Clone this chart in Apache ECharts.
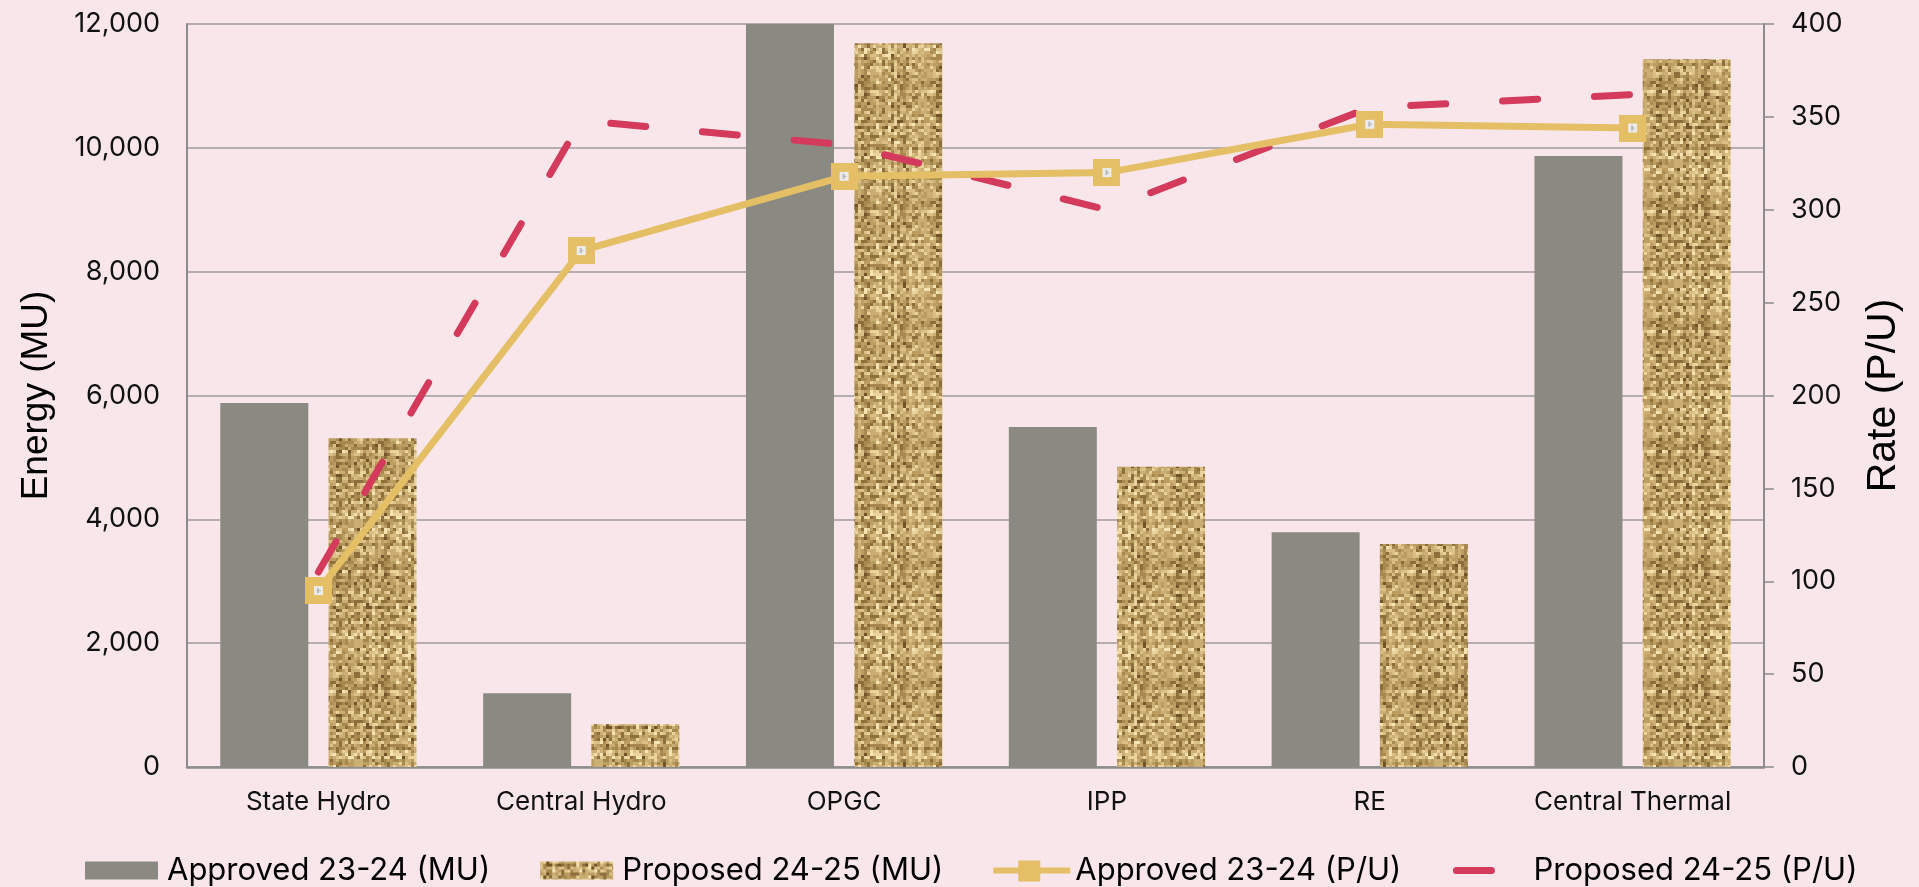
<!DOCTYPE html>
<html>
<head>
<meta charset="utf-8">
<script src="https://cdn.jsdelivr.net/npm/echarts@6/dist/echarts.min.js"></script>
<style>
html, body { margin: 0; padding: 0; background: #f9e6ea; }
#chart { width: 1919px; height: 887px; }
</style>
</head>
<body>
<div id="chart"></div>
<script>
const categories = ['State Hydro', 'Central Hydro', 'OPGC', 'IPP', 'RE', 'Central Thermal'];
const approvedEnergy = [5880, 1190, 12000, 5490, 3790, 9870];
const proposedEnergy = [5310, 690, 11690, 4850, 3600, 11430];
const approvedRate = [95, 278, 318, 320, 346, 344];
const proposedRate = [105, 348, 335, 300, 355, 362];

const GOLD = '#e4bf66';
const RED = '#d43a5b';
const GREY = '#8a8a83';

// burlap-like woven tile for the proposed bars
const makeWeave = () => {
    const cell = 3;
    const n = 40;
    const c = document.createElement('canvas');
    c.width = c.height = cell * n;
    const ctx = c.getContext('2d');
    const shades = ['#553c16', '#715428', '#8d6f3c', '#a7884f', '#bb9d62', '#cbae73', '#dbc086', '#e9d29b', '#f6e3b2'];
    let seed = 12345;
    const next = () => {
        seed = (seed * 16807) % 2147483647;
        return seed / 2147483647;
    };
    const rowOff = [];
    const colOff = [];
    for (let i = 0; i < n; i++) {
        rowOff.push(next() * 2.6 - 1.3);
        colOff.push(next() * 2.6 - 1.3);
    }
    for (let y = 0; y < n; y++) {
        for (let x = 0; x < n; x++) {
            const horiz = ((x >> 1) + (y >> 1)) % 2 === 0;
            let v = 4.5 + (horiz ? rowOff[y] : colOff[x]) * 1.6 + (next() * 3.6 - 1.8);
            v = Math.max(0, Math.min(shades.length - 1, Math.round(v)));
            ctx.fillStyle = shades[v];
            ctx.fillRect(x * cell, y * cell, cell, cell);
        }
    }
    return c;
};

const makeMarker = () => {
    const c = document.createElement('canvas');
    c.width = c.height = 27;
    const ctx = c.getContext('2d');
    ctx.fillStyle = GOLD;
    ctx.fillRect(0, 0, 27, 27);
    ctx.fillStyle = '#ececec';
    ctx.fillRect(9, 9, 9, 9);
    ctx.fillStyle = '#b8b8b8';
    ctx.fillRect(12, 11, 2, 5);
    ctx.fillRect(13, 13, 3, 1);
    return 'image://' + c.toDataURL();
};

// legend icons drawn in a 77x26 box; the corner moves keep the box size
const BOX = 'M0 0 L0 0 M77 26 L77 26 ';
const barIcon = 'path://' + BOX + 'M0 4 L73 4 L73 22 L0 22 Z';
const goldIcon = 'path://' + BOX + 'M0 10 L25 10 L25 3 L47 3 L47 10 L77 10 L77 16 L47 16 L47 24 L25 24 L25 16 L0 16 Z';
const redIcon = 'path://' + BOX + 'M5 9.5 L40 9.5 A3.5 3.5 0 0 1 40 16.5 L5 16.5 A3.5 3.5 0 0 1 5 9.5 Z';

const weave = makeWeave();
const markerSymbol = makeMarker();

const chart = echarts.init(document.getElementById('chart'));

const option = {
    backgroundColor: '#f9e6ea',
    animation: false,
    textStyle: { fontFamily: 'Inter' },
    grid: {
        left: 187,
        right: 155,
        top: 24,
        bottom: 120,
        containLabel: false,
        outerBoundsMode: 'none'
    },
    legend: {
        left: 80,
        top: 850,
        itemWidth: 77,
        itemHeight: 26,
        itemGap: 50,
        symbolKeepAspect: false,
        itemStyle: { borderWidth: 0 },
        textStyle: { fontFamily: 'Inter', fontSize: 31, color: '#000' },
        data: [
            { name: 'Approved 23-24 (MU)', icon: barIcon },
            { name: 'Proposed 24-25 (MU)', icon: barIcon },
            { name: 'Approved 23-24 (P/U)', icon: goldIcon },
            { name: 'Proposed 24-25 (P/U)', icon: redIcon }
        ]
    },
    xAxis: {
        type: 'category',
        data: categories,
        axisLine: { lineStyle: { color: '#8c8c8c', width: 2.5 } },
        axisTick: { show: false },
        axisLabel: { color: '#111', fontSize: 26, margin: 22, fontFamily: 'Inter' }
    },
    yAxis: [
        {
            type: 'value',
            min: 0,
            max: 12000,
            interval: 2000,
            name: 'Energy (MU)',
            nameLocation: 'middle',
            nameGap: 132,
            nameTextStyle: { fontFamily: 'Liberation Sans', fontSize: 37, color: '#000' },
            axisLine: { show: true, lineStyle: { color: '#8c8c8c', width: 2 } },
            axisTick: { show: false },
            splitLine: { lineStyle: { color: '#9e9a9c', width: 1.5 } },
            axisLabel: {
                color: '#111',
                fontSize: 27,
                margin: 27,
                fontFamily: 'Inter',
                formatter: v => v.toLocaleString('en-US')
            }
        },
        {
            type: 'value',
            position: 'right',
            min: 0,
            max: 400,
            interval: 50,
            name: 'Rate (P/U)',
            nameLocation: 'middle',
            nameGap: 99,
            nameTextStyle: { fontFamily: 'Liberation Sans', fontSize: 41, color: '#000' },
            axisLine: { show: true, lineStyle: { color: '#8c8c8c', width: 2 } },
            axisTick: { show: true, length: 10, lineStyle: { color: '#8c8c8c', width: 1.5 } },
            splitLine: { show: false },
            axisLabel: { color: '#111', fontSize: 27, margin: 27, fontFamily: 'Inter' }
        }
    ],
    series: [
        {
            name: 'Approved 23-24 (MU)',
            type: 'bar',
            data: approvedEnergy,
            barWidth: 88,
            barGap: '23%',
            itemStyle: { color: GREY }
        },
        {
            name: 'Proposed 24-25 (MU)',
            type: 'bar',
            data: proposedEnergy,
            barWidth: 88,
            barGap: '23%',
            itemStyle: { color: { image: weave, repeat: 'repeat' } }
        },
        {
            name: 'Approved 23-24 (P/U)',
            type: 'line',
            yAxisIndex: 1,
            data: approvedRate,
            symbol: markerSymbol,
            symbolSize: 27,
            lineStyle: { color: GOLD, width: 7 },
            itemStyle: { color: GOLD },
            z: 4
        },
        {
            name: 'Proposed 24-25 (P/U)',
            type: 'line',
            yAxisIndex: 1,
            data: proposedRate,
            symbol: 'none',
            lineStyle: { color: RED, width: 7, type: [35, 57], cap: 'round' },
            itemStyle: { color: RED },
            z: 3
        }
    ]
};

chart.setOption(option);
</script>
</body>
</html>
